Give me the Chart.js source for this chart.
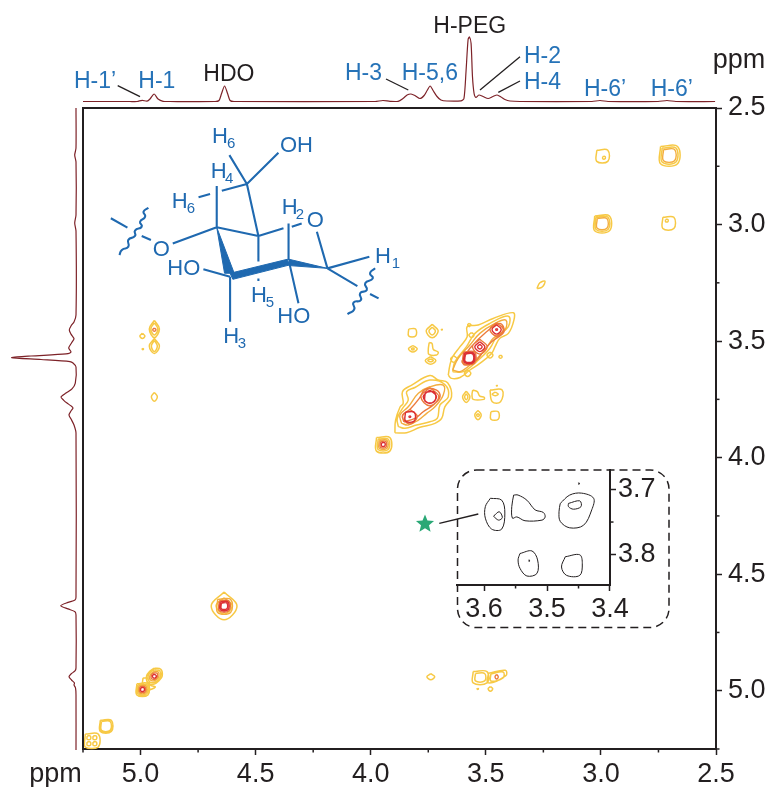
<!DOCTYPE html>
<html>
<head>
<meta charset="utf-8">
<title>2D NMR</title>
<script src="https://cdn.jsdelivr.net/npm/chart.js@4"></script>
<style>
  html, body { margin: 0; padding: 0; background: #fff; }
  #wrap { position: relative; width: 773px; height: 787px; overflow: hidden; }
  #mainChart { position: absolute; left: 0; top: 0; }
  #insetChart { position: absolute; left: 450px; top: 440px; }
</style>
</head>
<body>
<div id="wrap">
  <canvas id="mainChart" width="773" height="787"></canvas>
  <canvas id="insetChart" width="230" height="197"></canvas>
</div>
<script>
// ---- 1D projections: [ppm, intensity] ----
const topTrace = [
  [5.25,0],[5.046,0],[5.015,0],[4.993,1.2],[4.972,0.3],[4.959,2.5],[4.941,7.5],[4.924,2.5],[4.902,0.2],[4.872,0],
  [4.676,0],[4.659,1],[4.648,8],[4.635,15.5],[4.622,8],[4.611,1],[4.594,0],
  [3.981,0],[3.947,1],[3.916,0.2],[3.881,0.2],[3.860,3],[3.842,6.5],[3.825,7.5],[3.808,6],[3.786,3],
  [3.768,6],[3.755,11],[3.742,15.5],[3.729,11],[3.712,5],[3.695,1.5],[3.669,0.5],[3.608,0.7],[3.595,3],
  [3.586,30],[3.577,62],[3.571,64.5],[3.564,58],[3.558,25],[3.551,8],[3.543,4],[3.530,6.5],[3.512,5],[3.490,3],
  [3.469,5],[3.451,6.5],[3.434,4.5],[3.417,2],[3.395,0.5],[3.351,0],
  [3.039,0],[3.004,1],[2.969,0],[2.752,0],[2.713,1],[2.674,0],[2.504,0]
];
const leftTrace = [
  [2.5,0],[2.672,0],[2.702,1.3],[2.732,0],[2.959,0],[2.993,1.3],[3.028,0],[3.388,0],[3.418,2],[3.435,5],[3.452,6.7],
  [3.470,5],[3.490,2],[3.508,4.5],[3.530,7.3],[3.547,5],[3.555,10],[3.564,45],[3.571,64.3],[3.579,35],[3.588,6],[3.594,3],
  [3.611,0],[3.680,0.7],[3.705,4],[3.723,10],[3.740,15],[3.753,12.5],[3.766,9],[3.778,5],[3.787,3],[3.800,5],[3.817,7],
  [3.838,4.5],[3.860,2],[3.894,0],[4.598,0],[4.611,1],[4.621,8],[4.635,15.3],[4.649,8],[4.661,1],[4.675,0],
  [4.902,0],[4.915,1],[4.928,5],[4.940,7],[4.954,4.5],[4.967,1.5],[4.975,2],[4.988,0.5],[5.018,0],[5.254,0]
];

// ---- 2D contours, one flat x,y,x,y list per closed line (ppm) ----
const contoursYellow = [
  // H-6' corner peaks
  [3.018,2.681,2.970,2.681,2.970,2.729,3.018,2.729],
  [2.992,2.708,2.982,2.708,2.982,2.718,2.992,2.718],
  [2.741,2.665,2.667,2.665,2.667,2.739,2.741,2.739],
  [2.734,2.672,2.674,2.672,2.674,2.732,2.734,2.732],
  [3.027,2.963,2.963,2.963,2.963,3.027,3.027,3.027],
  [3.021,2.969,2.969,2.969,2.969,3.021,3.021,3.021],
  [2.731,2.969,2.683,2.969,2.683,3.017,2.731,3.017],
  [2.719,2.978,2.709,2.978,2.709,2.988,2.719,2.988],
  [3.278,3.275,3.265,3.250,3.243,3.243,3.255,3.268],
  // H-1 column
  [4.940,3.411,4.918,3.448,4.940,3.485,4.962,3.448],
  [4.940,3.422,4.925,3.448,4.940,3.474,4.955,3.448],
  [4.940,3.489,4.918,3.521,4.940,3.553,4.962,3.521],
  [4.940,3.497,4.927,3.521,4.940,3.545,4.953,3.521],
  [4.992,3.467,4.981,3.478,4.992,3.489,5.003,3.478],
  [4.990,3.531,4.987,3.534,4.990,3.537,4.993,3.534],
  [4.940,3.720,4.927,3.739,4.940,3.758,4.953,3.739],
  // HDO
  [4.637,4.576,4.581,4.636,4.637,4.696,4.693,4.636],
  [4.637,4.601,4.602,4.636,4.637,4.671,4.672,4.636],
  // H-1 diagonal
  [4.940,4.903,4.912,4.908,4.906,4.937,4.920,4.957,4.940,4.971,4.968,4.966,4.974,4.937,4.960,4.917],
  [4.940,4.910,4.917,4.914,4.913,4.937,4.924,4.953,4.940,4.964,4.962,4.960,4.967,4.937,4.956,4.921],
  [5.016,4.970,4.968,4.970,4.968,5.018,5.016,5.018],
  [5.011,4.975,4.973,4.975,4.973,5.013,5.011,5.013],
  [4.989,4.945,4.991,4.975,4.971,4.996,4.936,4.984,4.958,4.975,4.967,4.949],
  // lower left corner
  [5.175,5.127,5.127,5.127,5.127,5.175,5.175,5.175],
  [5.170,5.132,5.132,5.132,5.132,5.170,5.170,5.170],
  [5.240,5.186,5.184,5.186,5.184,5.242,5.240,5.242],
  [5.206,5.194,5.192,5.194,5.192,5.208,5.206,5.208],
  [5.232,5.194,5.218,5.194,5.218,5.208,5.232,5.208],
  [5.206,5.220,5.192,5.220,5.192,5.234,5.206,5.234],
  [5.232,5.220,5.218,5.220,5.218,5.234,5.232,5.234],
  // H-1 row
  [3.739,4.927,3.722,4.940,3.739,4.953,3.756,4.940],
  [3.555,4.918,3.495,4.918,3.495,4.966,3.555,4.966],
  [3.545,4.926,3.505,4.926,3.505,4.958,3.545,4.958],
  [3.489,4.925,3.415,4.912,3.413,4.935,3.490,4.966],
  [3.478,4.928,3.425,4.920,3.425,4.945,3.478,4.958],
  [3.480,4.982,3.470,4.992,3.480,5.002,3.490,4.992],
  [3.535,4.989,3.532,4.992,3.535,4.995,3.538,4.992],
  // off-diagonal around the crowded region
  [3.835,3.448,3.805,3.448,3.805,3.478,3.835,3.478],
  [3.733,3.428,3.707,3.457,3.733,3.486,3.759,3.457],
  [3.733,3.440,3.719,3.457,3.733,3.474,3.747,3.457],
  [3.817,3.519,3.798,3.533,3.817,3.547,3.836,3.533],
  [3.817,3.528,3.811,3.533,3.817,3.538,3.823,3.533],
  [3.746,3.506,3.734,3.510,3.728,3.536,3.707,3.547,3.714,3.560,3.747,3.557,3.750,3.538],
  [3.740,3.567,3.717,3.583,3.740,3.599,3.763,3.583],
  [3.740,3.577,3.728,3.583,3.740,3.589,3.752,3.583],
  [3.691,3.448,3.689,3.450,3.691,3.452,3.693,3.450],
  [3.585,3.715,3.569,3.739,3.585,3.763,3.601,3.739],
  [3.585,3.726,3.578,3.739,3.585,3.752,3.592,3.739],
  [3.557,3.710,3.537,3.717,3.526,3.736,3.507,3.741,3.508,3.750,3.555,3.750,3.560,3.731],
  [3.482,3.710,3.429,3.710,3.436,3.760,3.472,3.760],
  [3.459,3.719,3.446,3.727,3.459,3.735,3.472,3.727],
  [3.452,3.689,3.450,3.691,3.452,3.693,3.454,3.691],
  [3.534,3.797,3.520,3.817,3.534,3.837,3.548,3.817],
  [3.534,3.811,3.528,3.817,3.534,3.823,3.540,3.817],
  [3.478,3.803,3.446,3.803,3.446,3.835,3.478,3.835],
  // H-3 diagonal
  [3.975,3.914,3.917,3.914,3.917,3.972,3.975,3.972],
  [3.968,3.921,3.924,3.921,3.924,3.965,3.968,3.965],
  // crowded diagonal, lower lobe
  [3.895,3.893,3.892,3.839,3.873,3.784,3.859,3.767,3.862,3.717,3.822,3.689,3.743,3.648,3.707,3.667,3.666,3.679,3.649,3.739,3.678,3.782,3.692,3.832,3.721,3.853,3.786,3.870,3.844,3.893],
  [3.880,3.867,3.885,3.832,3.862,3.789,3.837,3.753,3.844,3.717,3.808,3.699,3.743,3.667,3.678,3.686,3.663,3.739,3.699,3.774,3.711,3.832,3.743,3.846,3.801,3.860,3.851,3.874],
  // crowded diagonal, upper lobe
  [3.663,3.646,3.656,3.603,3.644,3.567,3.612,3.524,3.581,3.481,3.581,3.438,3.533,3.431,3.468,3.403,3.381,3.378,3.378,3.410,3.402,3.467,3.439,3.488,3.460,3.524,3.475,3.553,3.526,3.596,3.569,3.624,3.612,3.656,3.649,3.660],
  [3.644,3.631,3.634,3.588,3.584,3.524,3.547,3.467,3.482,3.424,3.402,3.393,3.402,3.438,3.453,3.481,3.482,3.531,3.540,3.588,3.598,3.631],
  [3.639,3.563,3.625,3.577,3.639,3.591,3.653,3.577],
  [3.579,3.624,3.565,3.638,3.579,3.652,3.593,3.638],
  [3.482,3.547,3.469,3.560,3.482,3.573,3.495,3.560],
  [3.436,3.560,3.429,3.567,3.436,3.574,3.443,3.567],
  [3.572,3.424,3.565,3.431,3.572,3.438,3.579,3.431],
  [3.562,3.463,3.551,3.474,3.562,3.485,3.573,3.474]
];
const contoursAmber = [
  [2.728,2.678,2.680,2.678,2.680,2.726,2.728,2.726],
  [3.016,2.974,2.974,2.974,2.974,3.016,3.016,3.016],
  [4.665,4.608,4.609,4.608,4.609,4.664,4.665,4.664],
  [4.940,4.917,4.923,4.920,4.920,4.937,4.928,4.949,4.940,4.957,4.957,4.954,4.960,4.937,4.952,4.925],
  [5.007,4.979,4.977,4.979,4.977,5.009,5.007,5.009],
  [3.963,3.926,3.929,3.926,3.929,3.960,3.963,3.960],
  [3.866,3.853,3.873,3.817,3.837,3.782,3.793,3.724,3.743,3.696,3.685,3.689,3.685,3.731,3.721,3.782,3.757,3.810,3.793,3.839,3.837,3.860],
  [3.644,3.624,3.620,3.574,3.569,3.517,3.526,3.467,3.460,3.424,3.413,3.410,3.417,3.453,3.468,3.488,3.504,3.538,3.562,3.596,3.612,3.631]
];
const contoursOrange = [
  [4.940,3.444,4.933,3.451,4.940,3.458,4.947,3.451],
  [3.453,4.930,3.446,4.940,3.453,4.950,3.460,4.940],
  [4.658,4.615,4.616,4.615,4.616,4.657,4.658,4.657],
  [4.940,4.923,4.928,4.925,4.926,4.937,4.932,4.946,4.940,4.951,4.952,4.949,4.954,4.937,4.949,4.928],
  [5.003,4.983,4.981,4.983,4.981,5.005,5.003,5.005],
  [3.958,3.931,3.934,3.931,3.934,3.955,3.958,3.955],
  [3.856,3.846,3.862,3.817,3.830,3.793,3.789,3.746,3.764,3.707,3.714,3.710,3.699,3.739,3.728,3.774,3.772,3.803,3.808,3.832],
  [3.605,3.588,3.569,3.531,3.497,3.460,3.439,3.424,3.421,3.460,3.475,3.503,3.511,3.546,3.547,3.588,3.591,3.603],
  [3.830,3.792,3.798,3.824,3.830,3.856,3.862,3.824],
  [3.453,3.421,3.424,3.450,3.453,3.479,3.482,3.450],
  [3.526,3.492,3.494,3.524,3.526,3.556,3.558,3.524],
  [3.597,3.547,3.549,3.547,3.549,3.595,3.597,3.595],
  [3.743,3.700,3.704,3.739,3.743,3.778,3.782,3.739]
];
const contoursRed = [
  [4.654,4.619,4.620,4.619,4.620,4.653,4.654,4.653],
  [4.649,4.624,4.625,4.624,4.625,4.648,4.649,4.648],
  [4.940,4.928,4.931,4.937,4.940,4.946,4.949,4.937],
  [4.999,4.987,4.985,4.987,4.985,5.001,4.999,5.001],
  [3.953,3.936,3.939,3.936,3.939,3.950,3.953,3.950],
  [3.743,3.710,3.714,3.739,3.743,3.768,3.772,3.739],
  [3.763,3.719,3.723,3.719,3.723,3.759,3.763,3.759],
  [3.849,3.805,3.811,3.805,3.811,3.843,3.849,3.843],
  [3.830,3.820,3.826,3.824,3.830,3.828,3.834,3.824],
  [3.453,3.430,3.433,3.450,3.453,3.470,3.473,3.450],
  [3.453,3.446,3.449,3.450,3.453,3.454,3.457,3.450],
  [3.526,3.503,3.504,3.524,3.526,3.545,3.548,3.524],
  [3.526,3.514,3.516,3.524,3.526,3.534,3.536,3.524],
  [3.593,3.551,3.553,3.551,3.553,3.591,3.593,3.591],
  [3.589,3.555,3.557,3.555,3.557,3.587,3.589,3.587]
];

// ---- inset (zoom on the starred cross peak) ----
const insetContours = [
  [3.590,3.713,3.572,3.716,3.567,3.736,3.572,3.761,3.588,3.761,3.598,3.744,3.598,3.726],
  [3.585,3.741,3.576,3.734,3.571,3.743,3.577,3.747],
  [3.553,3.708,3.546,3.708,3.532,3.716,3.519,3.731,3.506,3.735,3.503,3.742,3.508,3.747,3.535,3.748,3.548,3.742,3.555,3.744,3.556,3.726],
  [3.479,3.721,3.464,3.708,3.445,3.705,3.426,3.713,3.429,3.731,3.442,3.755,3.464,3.759,3.479,3.749,3.481,3.734],
  [3.466,3.721,3.448,3.717,3.446,3.726,3.458,3.730,3.466,3.726],
  [3.543,3.799,3.524,3.795,3.515,3.809,3.516,3.830,3.532,3.834,3.543,3.822,3.546,3.809],
  [3.529,3.809,3.527,3.810,3.529,3.811,3.528,3.811],
  [3.471,3.804,3.448,3.801,3.444,3.815,3.448,3.833,3.469,3.833,3.477,3.820],
  [3.450,3.689,3.448,3.690,3.450,3.691,3.449,3.691]
];

// ---- sugar ring, in the same ppm frame ----
const ringBonds = [
  [4.538,2.826,4.488,3.049],[4.538,2.826,4.401,2.692],[4.538,2.826,4.614,2.702],[4.538,2.826,4.647,2.855],
  [4.698,2.869,4.748,2.883],[4.669,2.835,4.669,3.012],[4.669,3.012,4.488,3.049],[4.669,3.012,4.860,3.081],
  [4.488,3.049,4.379,3.016],[4.343,3.009,4.300,2.995],[4.488,3.049,4.488,3.159],[4.488,3.231,4.488,3.242],
  [4.357,2.995,4.357,3.152],[4.234,3.031,4.188,3.188],[4.188,3.188,4.006,3.138],[4.188,3.188,4.058,3.264],
  [4.003,3.298,3.966,3.317],[4.727,3.192,4.611,3.224],[4.611,3.224,4.611,3.417],[4.355,3.159,4.314,3.338],
  [4.955,3.066,4.995,3.049],[5.057,3.013,5.129,2.973]
];
const ringWedges = [
  [4.669,3.012,4.635,3.209,4.593,3.209],
  [4.611,3.209,4.362,3.149,4.355,3.174,4.599,3.235],
  [4.355,3.149,4.188,3.188,4.355,3.176]
];
const ringWaves = [
  [4.966,2.928,4.987,2.945,4.980,2.966,5.002,2.988,4.995,3.009,5.024,3.026,5.024,3.049,5.053,3.066,5.053,3.095,5.081,3.109,5.092,3.131],
  [3.981,3.188,4.003,3.209,3.991,3.231,4.024,3.252,4.017,3.281,4.046,3.295,4.043,3.324,4.075,3.335,4.072,3.364,4.101,3.384]
];

// ---- labels ----
const BLUE = '#2673b8';
const BOND = '#1f69b0';
const INK = '#231f20';
const TRACE = '#7d2228';
const labelFont = '"Liberation Sans", Arial, sans-serif';
const textLabels = [
  ["H-1\u2019", 74, 88, BLUE, 23], ["H-1", 138.3, 88, BLUE, 23], ["HDO", 203.3, 81, INK, 23],
  ["H-3", 345, 80, BLUE, 23], ["H-5,6", 401.7, 80, BLUE, 23], ["H-PEG", 433.3, 32.7, INK, 23],
  ["H-2", 524, 63.3, BLUE, 23], ["H-4", 524, 89, BLUE, 23], ["H-6\u2019", 584, 96, BLUE, 23], ["H-6\u2019", 650.7, 96, BLUE, 23],
  ["ppm", 712.7, 68, INK, 27], ["ppm", 29.3, 781.7, INK, 27],
  ["H", 212, 143, BOND, 22], ["6", 227, 147.5, BOND, 15], ["OH", 280, 152, BOND, 22],
  ["H", 210.7, 178, BOND, 22], ["4", 225, 183, BOND, 15], ["H", 171.7, 208, BOND, 22], ["6", 186.7, 212.5, BOND, 15],
  ["H", 281.7, 214, BOND, 22], ["2", 295.7, 218.5, BOND, 15], ["O", 306.7, 226.7, BOND, 22], ["O", 152.7, 255.7, BOND, 22],
  ["H", 375, 263, BOND, 22], ["1", 391.7, 267.5, BOND, 15], ["HO", 167.3, 275, BOND, 22],
  ["H", 251, 301.7, BOND, 22], ["5", 265.7, 306.7, BOND, 15], ["HO", 277.3, 323, BOND, 22],
  ["H", 223.3, 343, BOND, 22], ["3", 237.7, 347.7, BOND, 15]
];
const leaderLines = [
  [117.7,85.7,140,96.7],[386,79,408.3,90],[520,56.7,480,90],[520,81,498.3,92.3],[439.3,523.3,478.3,514]
];

// turn flat lists into scatter points, a null point breaks the line
function toPoints(lists, close) {
  const pts = [];
  lists.forEach(list => {
    for (let i = 0; i < list.length; i += 2) pts.push({ x: list[i], y: list[i + 1] });
    if (close) pts.push({ x: list[0], y: list[1] });
    pts.push({ x: null, y: null });
  });
  return pts;
}

function lineSet(lists, color, width, tension, close, order) {
  return {
    data: toPoints(lists, close), borderColor: color, borderWidth: width, tension: tension,
    showLine: true, pointRadius: 0, clip: false, spanGaps: false, order: order
  };
}

// short unlabelled ticks, chart.js only has one tickLength per axis
const minorTickPlugin = {
  id: 'minorTicks',
  afterDraw(chart) {
    const ctx = chart.ctx;
    ctx.save();
    ctx.strokeStyle = INK;
    ctx.lineWidth = 1.5;
    chart.scales.x.ticks.forEach(t => {
      if (t.label) return;
      const px = chart.scales.x.getPixelForValue(t.value);
      ctx.beginPath(); ctx.moveTo(px, chart.chartArea.bottom); ctx.lineTo(px, chart.chartArea.bottom + 3.5); ctx.stroke();
    });
    chart.scales.y.ticks.forEach(t => {
      if (t.label) return;
      const py = chart.scales.y.getPixelForValue(t.value);
      ctx.beginPath(); ctx.moveTo(chart.chartArea.right, py); ctx.lineTo(chart.chartArea.right + 3.5, py); ctx.stroke();
    });
    ctx.restore();
  }
};

// frame, dashed box, leaders, star and all free text
const decorPlugin = {
  id: 'decor',
  afterDatasetsDraw(chart) {
    const ctx = chart.ctx, a = chart.chartArea;
    ctx.save();
    ctx.strokeStyle = INK;
    ctx.lineWidth = 2;
    ctx.beginPath();
    ctx.moveTo(a.left, a.bottom); ctx.lineTo(a.left, a.top); ctx.lineTo(a.right, a.top);
    ctx.stroke();

    ctx.lineWidth = 1.3;
    leaderLines.forEach(l => {
      ctx.beginPath(); ctx.moveTo(l[0], l[1]); ctx.lineTo(l[2], l[3]); ctx.stroke();
    });

    ctx.lineWidth = 1.5;
    ctx.setLineDash([8, 5]);
    ctx.beginPath();
    ctx.roundRect(457.5, 470, 211.5, 157.5, 19);
    ctx.stroke();
    ctx.setLineDash([]);

    // green star marker
    ctx.fillStyle = '#2aa876';
    ctx.beginPath();
    for (let i = 0; i < 10; i++) {
      const r = i % 2 ? 4.2 : 9.5, t = -Math.PI / 2 + i * Math.PI / 5;
      ctx.lineTo(425 + r * Math.cos(t), 524 + r * Math.sin(t));
    }
    ctx.closePath();
    ctx.fill();

    ctx.textBaseline = 'alphabetic';
    ctx.textAlign = 'left';
    textLabels.forEach(t => {
      ctx.font = t[4] + 'px ' + labelFont;
      ctx.fillStyle = t[3];
      ctx.fillText(t[0], t[1], t[2]);
    });
    ctx.restore();
  }
};

function halfLabel(v) {
  return Math.abs(v * 2 - Math.round(v * 2)) < 1e-6 ? v.toFixed(1) : '';
}
function insetLabel(v) {
  return Math.abs(v * 10 - Math.round(v * 10)) < 1e-6 ? v.toFixed(1) : '';
}

function axis(min, max, pos, step, cb, fitSize, pad) {
  return {
    type: 'linear', position: pos, reverse: true, min: min, max: max,
    border: { display: true, color: INK, width: 2 },
    grid: {
      display: true, drawOnChartArea: false, drawTicks: true, tickLength: 6, tickWidth: 1.5,
      tickColor: c => (c.tick && c.tick.label ? INK : 'rgba(0,0,0,0)')
    },
    ticks: {
      stepSize: step, callback: cb, autoSkip: false, maxRotation: 0, includeBounds: false,
      color: INK, padding: pad, font: { family: labelFont, size: 27 }
    },
    afterFit(scale) {
      if (pos === 'right') scale.width = fitSize; else scale.height = fitSize;
    }
  };
}

new Chart(document.getElementById('mainChart'), {
  type: 'scatter',
  data: {
    datasets: [
      lineSet(contoursRed, '#dc3034', 1.4, 0.4, true, 1),
      lineSet(contoursOrange, '#ec7a3c', 1.4, 0.4, true, 2),
      lineSet(contoursAmber, '#f3ad3f', 1.4, 0.4, true, 3),
      lineSet(contoursYellow, '#f7c945', 1.5, 0.4, true, 4),
      lineSet(ringBonds, BOND, 2.1, 0, false, 5),
      Object.assign(lineSet(ringWedges, BOND, 1, 0, true, 5), { fill: 'shape', backgroundColor: BOND }),
      lineSet(ringWaves, BOND, 2.1, 0.6, false, 5),
      {
        data: topTrace.map(p => ({ x: p[0], y: p[1] })), yAxisID: 'yTop', borderColor: TRACE, borderWidth: 1.2,
        tension: 0.25, showLine: true, pointRadius: 0, clip: false, order: 6
      },
      {
        data: leftTrace.map(p => ({ x: p[1], y: p[0] })), xAxisID: 'xLeft', borderColor: TRACE, borderWidth: 1.2,
        tension: 0.25, showLine: true, pointRadius: 0, clip: false, order: 6
      }
    ]
  },
  options: {
    responsive: false,
    animation: false,
    layout: { padding: { left: 83, top: 108, right: 0, bottom: 0 } },
    plugins: { legend: { display: false }, tooltip: { enabled: false } },
    scales: {
      x: axis(2.5, 5.25, 'bottom', 0.25, halfLabel, 38, 3),
      y: axis(2.5, 5.25, 'right', 0.25, halfLabel, 57, 6),
      // intensity axes for the projections, 1 unit = 1 px, zero sits just outside the frame
      yTop: { type: 'linear', axis: 'y', display: false, min: -647.5, max: -6.5 },
      xLeft: { type: 'linear', axis: 'x', display: false, reverse: true, min: -640, max: -7 }
    }
  },
  plugins: [decorPlugin, minorTickPlugin]
});

new Chart(document.getElementById('insetChart'), {
  type: 'scatter',
  data: { datasets: [lineSet(insetContours, '#231f20', 1, 0.35, true, 1)] },
  options: {
    responsive: false,
    animation: false,
    layout: { padding: { left: 7, top: 30, right: 0, bottom: 0 } },
    plugins: { legend: { display: false }, tooltip: { enabled: false } },
    scales: {
      x: axis(3.4, 3.643, 'bottom', 0.05, insetLabel, 52, 2),
      y: axis(3.669, 3.848, 'right', 0.05, insetLabel, 70, 2)
    }
  },
  plugins: [minorTickPlugin]
});
</script>
</body>
</html>
